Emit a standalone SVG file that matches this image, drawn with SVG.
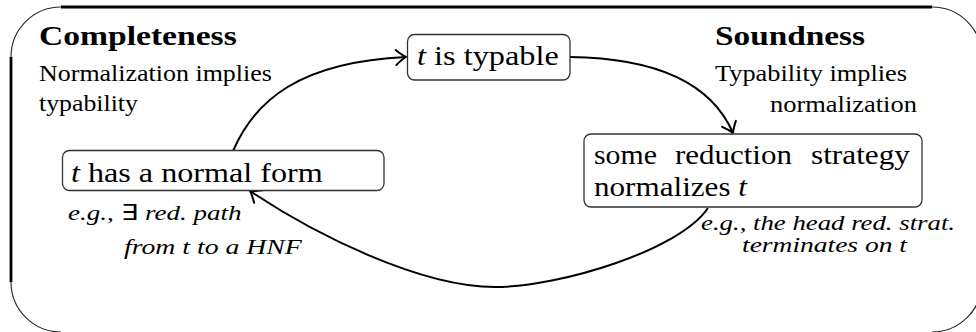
<svg xmlns="http://www.w3.org/2000/svg" width="976" height="332" viewBox="0 0 976 332">
<style>
text{font-family:"Liberation Serif",serif;fill:#000}
.title{font-size:28px;font-weight:bold}
.body{font-size:24px}
.node{font-size:28px}
.ann{font-size:22px;font-style:italic}
.it{font-style:italic}
.up{font-style:normal}
.box{fill:#fff;stroke:#333;stroke-width:1.3}
.thick{fill:none;stroke:#000;stroke-width:2.8}
.thin{fill:none;stroke:#222;stroke-width:1.1}
.conn{fill:none;stroke:#000;stroke-width:2}
</style>
<defs>
<marker id="arr" markerUnits="userSpaceOnUse" markerWidth="20" markerHeight="20" viewBox="-12 -8 16 16" refX="0" refY="0" orient="auto">
<path d="M-8,-6 Q-3,-1.5 0,0 Q-3,1.5 -8,6" fill="none" stroke="#000" stroke-width="1.6" stroke-linecap="round"/>
</marker>
</defs>
<g id="frame">
<path class="thin" d="M11,57 A50,50 0 0 1 61,7"/>
<path class="thick" d="M61,7 H932"/>
<path class="thin" d="M932,7 A50,50 0 0 1 982,57"/>
<path class="thick" d="M11,57 V282"/>
<path class="thin" d="M11,282 A50,50 0 0 0 61,332"/>
<path class="thin" d="M982,282 A50,50 0 0 1 932,332"/>
</g>
<g id="completeness">
<text class="title" transform="translate(39,45) scale(1.2,1)">Completeness</text>
<text class="body" transform="translate(39,81) scale(1.082,1)">Normalization implies</text>
<text class="body" transform="translate(39,111) scale(1.076,1)">typability</text>
</g>
<g id="soundness">
<text class="title" transform="translate(715,45) scale(1.19,1)">Soundness</text>
<text class="body" transform="translate(715,81) scale(1.098,1)">Typability implies</text>
<text class="body" transform="translate(770,112) scale(1.103,1)">normalization</text>
</g>
<g id="connectors">
<path class="conn" d="M233,151 C255,100 300,62 406,57" marker-end="url(#arr)"/>
<path class="conn" d="M570,57 C650,58 710,80 733,133" marker-end="url(#arr)"/>
<path class="conn" d="M708,208 C680,250 560,287 495,287 C420,287 314,234 250,191" marker-end="url(#arr)"/>
</g>
<g id="node-typable">
<rect class="box" x="407.5" y="34.5" width="162.5" height="45.5" rx="7"/>
<text class="node" transform="translate(417,65) scale(1.155,1)"><tspan class="it">t</tspan> is typable</text>
</g>
<g id="node-normal-form">
<rect class="box" x="62.5" y="150.5" width="321.5" height="40" rx="7"/>
<text class="node" transform="translate(71,182) scale(1.149,1)"><tspan class="it">t</tspan> has a normal form</text>
<text class="ann" transform="translate(68,220) scale(1.23,1)">e.g., <tspan class="up">∃</tspan> red. path</text>
<text class="ann" transform="translate(124,254) scale(1.262,1)">from t to a HNF</text>
</g>
<g id="node-strategy">
<rect class="box" x="584" y="134" width="338" height="73" rx="7"/>
<text class="node" transform="translate(594,164) scale(1.066,1)">some</text>
<text class="node" transform="translate(675,164) scale(1.106,1)">reduction</text>
<text class="node" transform="translate(811,164) scale(1.117,1)">strategy</text>
<text class="node" transform="translate(594,196) scale(1.112,1)">normalizes <tspan class="it">t</tspan></text>
<text class="ann" transform="translate(701,230) scale(1.217,1)">e.g., the head red. strat.</text>
<text class="ann" transform="translate(742,252) scale(1.25,1)">terminates on t</text>
</g>
</svg>
